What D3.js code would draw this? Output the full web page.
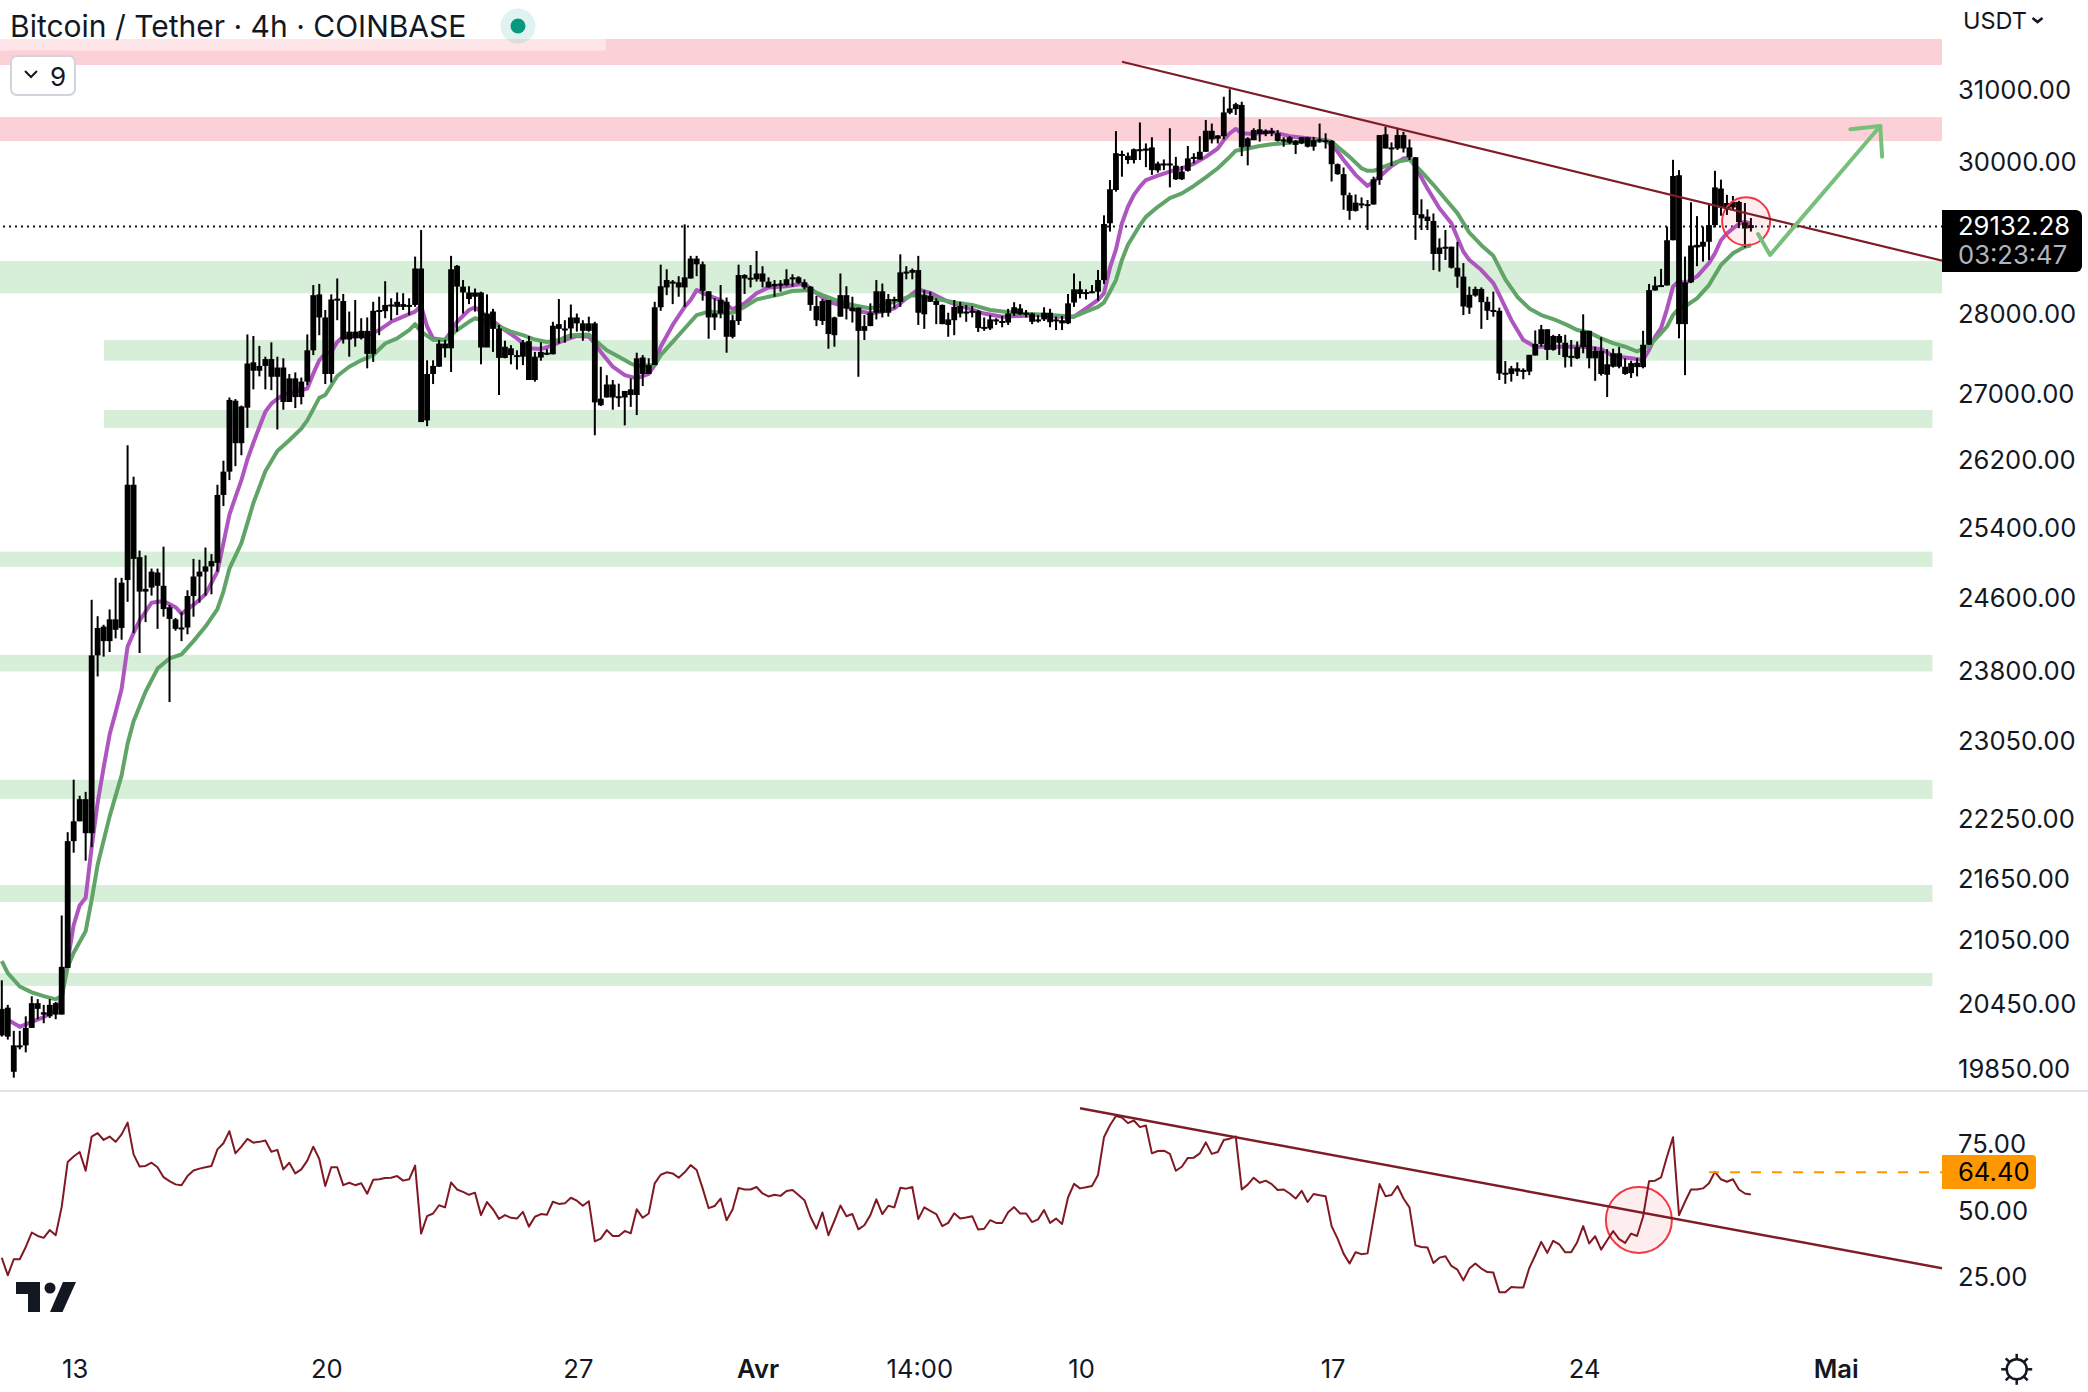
<!DOCTYPE html>
<html><head><meta charset="utf-8">
<script src="https://cdnjs.cloudflare.com/ajax/libs/d3/7.8.5/d3.min.js"></script>
<style>html,body{margin:0;padding:0;background:#fff}svg{display:block}text{font-family:Inter,"Noto Sans",sans-serif;fill:#131722}</style>
</head><body><div id="chart"></div>
<script>
const bodyTop=[20401,20412,20065,20065,20225,20454,20454,20369,20438,20454,
20795,22020,22220,22445,22445,23964,24265,24280,24360,24360,
24770,25900,25900,25060,24700,24895,24885,24735,24495,24360,
24270,24620,24840,24895,24955,25015,25780,26055,26920,26910,
26840,27370,27385,27340,27425,27425,27320,27320,27185,27185,
27145,27535,28235,28245,27950,28180,28190,28160,27770,27770,
27780,27780,28035,28045,28110,28115,28150,28120,28110,28580,
28580,27240,27340,27620,27620,28570,28615,28345,28270,28270,
28270,28000,28025,27810,27580,27560,27475,27635,27650,27455,
27515,27505,27845,27865,27810,27950,27950,27875,27875,27875,
26935,27110,27110,26965,27030,27050,27435,27445,27350,28080,
28350,28430,28410,28400,28465,28710,28710,28635,28285,28000,
28173,28150,27915,28495,28495,28460,28515,28515,28410,28380,
28385,28440,28465,28465,28400,28345,28095,28160,28173,27950,
28235,28235,28075,28075,27840,28010,28285,28285,28185,28185,
28530,28540,28560,28560,28235,28225,28160,28110,27925,28085,
28095,28025,28035,28030,27830,27925,27925,27905,28000,28080,
28065,28010,28000,27925,28010,28010,27925,27915,28130,28310,
28310,28275,28285,28430,29165,29630,30120,30110,30085,30175,
30175,30185,30200,29980,29980,29980,29950,29870,30050,30070,
30140,30430,30430,30365,30685,30740,30800,30790,30325,30440,
30450,30430,30430,30395,30310,30340,30290,30340,30340,30300,
30310,30300,30290,29970,29835,29550,29450,29440,29430,29765,
30370,30380,30200,30370,30370,30200,30065,29295,29263,29205,
28855,28865,28865,28590,28475,28240,28315,28315,28150,28045,
28035,27255,27310,27310,27290,27478,27615,27800,27800,27715,
27715,27630,27465,27575,27780,27780,27530,27530,27360,27498,
27498,27330,27375,27380,27605,28300,28360,28365,28950,29810,
29820,28400,28880,28890,28930,29150,29655,29640,29445,29460,
29460,29185,29150];
const bodyBottom=[20156,20145,19825,20050,20065,20225,20401,20348,20332,20348,
20348,20785,22020,22220,22100,22100,23964,24120,24120,24245,
24265,24800,25040,24670,24670,24715,24735,24475,24365,24255,
24255,24270,24620,24840,24895,24955,24995,25780,26055,26395,
26395,26825,27280,27280,27340,27205,27205,26895,26895,26955,
26955,27145,27535,27950,27240,27240,28180,27670,27670,27685,
27685,27490,27490,28030,28030,28095,28085,28085,28085,28110,
26650,26670,27240,27330,27560,27560,28345,28270,28185,28215,
27570,27570,27805,27440,27440,27475,27455,27455,27165,27165,
27445,27485,27485,27805,27805,27810,27875,27780,27780,26890,
26855,26950,26950,26950,26950,26980,26980,27240,27240,27350,
28080,28335,28385,28335,28335,28450,28635,28290,27950,27950,
28000,27705,27705,27905,28450,28445,28440,28410,28335,28350,
28370,28365,28440,28395,28335,28110,27915,27905,27740,27725,
27960,28065,28030,27780,27780,27840,28010,28010,28010,28160,
28150,28515,28525,28010,27990,28150,28110,27865,27855,27915,
28000,28010,28020,27815,27810,27810,27900,27895,27885,28000,
27990,27995,27895,27905,27925,27890,27905,27875,27875,28140,
28250,28265,28270,28280,28430,29175,29620,30095,30027,30027,
30155,30155,29890,29885,29970,29965,29765,29765,29880,30060,
30035,30140,30310,30320,30355,30680,30730,30200,30210,30300,
30385,30385,30395,30290,30295,30265,30235,30255,30210,30210,
30290,30290,29970,29835,29550,29340,29340,29415,29420,29425,
29755,30185,30180,30185,30185,30065,29285,29240,29205,28770,
28770,28845,28590,28475,28090,28075,28230,28145,28035,28025,
27245,27240,27240,27270,27280,27270,27470,27615,27540,27540,
27630,27450,27450,27435,27575,27435,27435,27240,27230,27330,
27330,27240,27250,27325,27325,27605,28295,28360,28360,28950,
27865,27865,28400,28855,28865,28930,29150,29385,29375,29385,
29190,29105,29110];
const wickHigh=[20668,20438,20198,20198,20332,20518,20492,20438,20492,20465,
21287,22110,22645,22480,22520,24578,24395,24300,24470,24825,
24825,26370,25995,25135,25080,24930,24930,25180,24520,24375,
24440,24685,25040,25030,25170,25095,25900,26185,26950,26930,
26850,27735,27715,27590,27455,27635,27455,27435,27240,27260,
27195,27735,28365,28380,28045,28245,28450,28250,28025,28173,
27940,27950,28150,28215,28415,28195,28270,28260,28195,28735,
29085,27410,27410,27665,27665,28745,28625,28430,28350,28320,
28280,28245,28060,27855,27655,27600,27535,27665,27715,27515,
27635,27550,27895,28185,27915,28115,28000,27915,27960,27895,
27329,27225,27165,27120,27030,27185,27505,27475,27435,28150,
28630,28570,28430,28480,29160,28745,28745,28670,28285,28195,
28365,28205,27980,28630,28505,28625,28810,28610,28465,28430,
28430,28570,28505,28480,28440,28350,28225,28185,28173,27960,
28515,28350,28215,28075,27980,28130,28430,28385,28250,28215,
28765,28610,28580,28745,28300,28280,28195,28115,28010,28173,
28150,28110,28095,28045,27950,27980,27940,27970,28060,28145,
28120,28045,28010,27980,28080,28060,27960,27970,28250,28515,
28415,28310,28365,28560,29280,29755,30425,30155,30130,30185,
30545,30255,30340,30005,30035,30465,30070,29945,30220,30120,
30355,30580,30530,30370,30905,31010,30820,30835,30340,30465,
30590,30450,30470,30440,30340,30355,30300,30345,30345,30345,
30530,30395,30300,29980,29925,29585,29560,29520,29485,29800,
30370,30486,30270,30455,30415,30310,30065,29495,29360,29305,
28975,29085,28865,28930,28650,28345,28345,28335,28215,28280,
28075,27400,27340,27385,27310,27478,27785,27855,27800,27730,
27740,27730,27665,27645,27990,27780,27580,27700,27550,27555,
27575,27435,27405,27435,27780,28380,28475,28575,29130,30030,
29890,28735,29455,29270,29130,29420,29880,29760,29555,29540,
29475,29445,29245];
const wickLow=[20145,20118,19772,20028,20001,20225,20305,20268,20316,20305,
20348,20785,21905,22220,21825,21960,23735,23950,24000,24150,
24135,24555,24210,23990,24330,24625,24255,24390,23460,24235,
24120,24195,24390,24545,24625,24640,24895,25650,25955,26120,
26250,26580,27050,27210,27050,27040,26560,26800,26895,26820,
26865,27100,27475,27725,27115,27135,27915,27620,27455,27580,
27670,27310,27390,27725,27940,27915,27980,28045,27980,28085,
26650,26600,27115,27330,27445,27265,27770,28000,28120,28025,
27360,27580,27515,26980,27435,27360,27295,27350,27165,27145,
27405,27475,27485,27620,27630,27685,27770,27655,27770,26490,
26845,26950,26800,26835,26610,26835,26735,27090,27240,27350,
28035,28235,28120,28215,28085,28450,28480,28165,27680,27790,
27940,27505,27685,27855,28250,28335,28410,28335,28335,28215,
28280,28350,28345,28380,28310,28035,27840,27855,27555,27580,
27960,27925,27885,27205,27665,27840,27925,27950,27960,28065,
28085,28440,28440,27855,27805,28150,27865,27865,27705,27725,
27950,27895,27950,27765,27780,27790,27855,27825,27855,27970,
27980,27950,27865,27885,27905,27825,27790,27790,27865,28085,
28195,28180,28265,28165,28380,29065,29598,29800,29975,29980,
30027,29930,29825,29855,29890,29655,29755,29755,29870,29980,
30035,30140,30255,30255,30310,30660,30650,30080,29955,30300,
30280,30355,30355,30280,30210,30245,30110,30245,30200,30155,
30265,30185,29735,29825,29355,29220,29330,29375,29085,29425,
29690,30185,29945,30165,30130,30027,28955,29085,29085,28560,
28540,28690,28580,28330,27980,27995,28215,27805,27918,27960,
27165,27118,27145,27215,27175,27225,27470,27580,27415,27530,
27478,27320,27330,27425,27498,27310,27155,27220,26955,27320,
27310,27230,27190,27210,27310,27605,28295,28360,28360,28950,
27685,27225,28390,28610,28670,28690,29120,29275,29285,29350,
29110,28855,29065];
const fastEma=[[1,20300],[3,20235],[5,20280],[7,20325],[9,20390],[10,20500],[11,20850],[12,21195],[13,21385],[14,21460],[15,21960],[16,22410],[17,22770],[18,23115],[19,23350],[20,23600],[21,24060],[22,24210],[23,24345],[25,24545],[27,24565],[29,24495],[30,24425],[32,24520],[34,24640],[36,24895],[37,25220],[38,25550],[39,25755],[40,25955],[41,26200],[42,26400],[43,26590],[44,26775],[45,26875],[46,26935],[47,26980],[49,27020],[51,27060],[52,27245],[53,27410],[54,27495],[55,27515],[56,27640],[57,27705],[59,27715],[61,27715],[63,27790],[65,27895],[67,27960],[69,28025],[70,28095],[71,27835],[72,27685],[74,27665],[75,27770],[76,27895],[78,28045],[79,28080],[80,28025],[82,27905],[84,27790],[86,27685],[88,27560],[90,27550],[92,27600],[94,27665],[96,27715],[98,27705],[99,27620],[100,27515],[102,27330],[104,27225],[106,27185],[108,27240],[109,27350],[110,27580],[112,27855],[114,28085],[115,28173],[116,28300],[118,28230],[120,28173],[122,28055],[124,28130],[126,28260],[128,28335],[131,28350],[134,28385],[136,28260],[138,28150],[141,28085],[143,28035],[145,28000],[147,28025],[149,28065],[151,28195],[153,28310],[155,28265],[158,28150],[161,28075],[164,28000],[167,27960],[170,27970],[173,27980],[176,27960],[179,27960],[181,28065],[183,28173],[184,28260],[185,28590],[186,28830],[187,29175],[188,29395],[189,29555],[190,29665],[191,29755],[193,29815],[195,29870],[197,29915],[199,29975],[201,30070],[203,30185],[204,30300],[205,30395],[206,30455],[207,30395],[209,30385],[212,30415],[215,30355],[218,30325],[221,30300],[222,30235],[223,30140],[224,30027],[226,29825],[228,29675],[229,29735],[230,29800],[232,29945],[234,30050],[235,30050],[236,29935],[238,29640],[240,29375],[242,29175],[244,28800],[245,28690],[247,28560],[249,28390],[250,28240],[252,27918],[254,27665],[256,27580],[258,27580],[261,27580],[264,27580],[267,27550],[269,27465],[272,27435],[274,27415],[275,27540],[276,27705],[277,27815],[278,28060],[279,28345],[280,28420],[281,28390],[283,28475],[285,28650],[286,28778],[287,28950],[288,29040],[289,29105],[290,29165],[291,29195],[292,29170]];
const slowEma=[[0,20850],[1,20735],[3,20610],[5,20555],[7,20520],[9,20490],[10,20520],[11,20795],[12,20930],[14,21135],[15,21440],[16,21785],[18,22270],[20,22690],[21,23020],[22,23255],[24,23570],[26,23820],[28,23930],[30,23975],[32,24120],[34,24280],[36,24475],[37,24670],[38,24930],[40,25220],[42,25685],[44,26060],[46,26300],[48,26430],[50,26570],[51,26670],[53,26945],[54,26980],[56,27215],[58,27330],[60,27410],[62,27475],[64,27620],[66,27685],[68,27790],[69,27865],[70,27770],[72,27665],[74,27665],[76,27790],[78,27895],[79,27940],[81,27895],[83,27835],[85,27770],[87,27725],[89,27670],[91,27640],[93,27665],[95,27725],[98,27735],[99,27665],[101,27535],[103,27455],[105,27370],[106,27340],[109,27350],[110,27475],[112,27640],[114,27810],[116,27980],[118,28025],[120,28010],[122,28010],[124,28085],[126,28180],[128,28215],[130,28245],[132,28290],[135,28300],[137,28235],[140,28150],[142,28110],[145,28065],[148,28130],[150,28173],[152,28235],[154,28225],[157,28173],[160,28130],[162,28110],[165,28045],[170,28000],[175,27980],[179,27960],[181,28025],[183,28085],[184,28140],[185,28280],[186,28430],[187,28692],[188,28890],[189,29020],[190,29150],[191,29260],[193,29395],[195,29510],[197,29575],[199,29675],[201,29790],[203,29915],[205,30070],[206,30155],[208,30185],[210,30220],[212,30245],[215,30265],[218,30290],[221,30300],[222,30280],[223,30210],[225,30070],[227,29915],[228,29880],[229,29880],[231,29945],[233,30005],[235,30035],[237,29870],[239,29690],[241,29500],[243,29310],[245,29050],[247,28885],[249,28745],[251,28440],[253,28215],[255,28065],[257,27980],[259,27930],[261,27865],[263,27790],[265,27760],[267,27685],[269,27625],[271,27580],[273,27520],[275,27590],[277,27750],[278,27835],[279,27980],[280,28065],[281,28090],[283,28195],[285,28365],[287,28625],[289,28778],[291,28865],[292,28885]];
const rsiValues=[32.4,25.9,31.9,31.9,36.5,41.9,40.6,39.9,42.8,40.9,51.5,68.3,70.3,72,65,77.8,79.1,76.5,77.8,75.8,78.6,83,71.1,66.6,66.8,68,66.3,62.6,61.1,59.9,59.6,63,65.1,65.8,66.3,66.8,73,75.3,79.8,71.5,74,76.9,75.5,75.8,76.3,72.1,72.8,65.5,68,64,65.5,68.8,74,69.4,59.3,66.3,66.3,59.6,60.5,59.6,60.3,56.4,61.6,61.8,62.3,62.4,63,61.3,61.8,66.9,41.5,48,49,52.1,51.3,60.6,58,57.1,56,56.8,48.4,53.3,50.6,47,48.4,47.4,47.1,49.6,44.1,47.8,48.8,48.5,53.4,52.6,52.8,54.9,53.8,51.9,53.6,38.6,39.6,42.8,40.6,40.6,42.5,41.6,50.6,47.4,49,60.3,63.5,64.4,64,62.4,64.4,67.1,65.3,
58.4,51,51.8,54.6,46.5,50.5,58.6,58,58,58.9,56.5,55.4,56,55.6,57.4,57.8,55.9,54,47.8,43.3,49.4,40.9,46.3,52,48,48.8,43.1,44.6,48.4,54.3,48.8,51.9,51.3,58.6,58.3,58.9,46.9,51.3,50,48.8,44.3,45.5,49.1,47.1,47.5,48,43,43.3,46.5,45.5,45.5,49.5,51.4,49,49,45.8,46.8,50.3,45.5,47.1,45.1,55,60.1,58.4,58.8,59.3,63.4,77.5,82,85.5,84.9,82.8,83.8,81.3,81.9,71.5,72.4,72.5,71.3,65,66.5,69.8,69.9,71.5,75.6,71.3,72,76.5,77,77.8,58,59.8,62.4,60.5,61.3,60,57.8,58,56.5,54.6,57.5,53.3,56.3,55.8,55.5,44.3,39.6,34,30.3,34.5,33.8,34.1,47.1,60,55.5,55.9,59.3,
54.6,51.3,37.1,36.5,36.3,30.5,32.5,33,29.4,28,24,28.4,30.3,28.4,27.1,26.9,19.6,19.6,21.5,21.3,21.3,28.6,33.4,38.4,34.3,38.8,37.5,34.5,34.5,38.3,44.3,37.8,40.5,35.5,39,42.4,39.4,38,41.5,40.6,47.8,61.1,61.3,62.5,70.3,77.5,48.4,53.4,58,58,58.4,60.3,64.6,61.8,60.9,61.8,58,56.5,56.1];
const priceTicks=[31000,30000,28000,27000,26200,25400,24600,23800,23050,22250,21650,21050,20450,19850];
const rsiTicks=[75,50,25];
const timeBars=[12,54,96,126,153,180,222,264,306];
const timeLabels=["13","20","27","Avr","14:00","10","17","24","Mai"];
const boldLabels=["Avr","Mai"];
const lastPrice=29132.28, countdown="03:23:47", lastRsi=64.40;
const resistanceZones=[[31728,31355,-1,324.5],[30620,30288,-1,324.5]];
const supportZones=[[28678,28259,-1,324.5],[27664,27405,17.06,322.3],[26796,26577,17.06,322.3],[25123,24948,-1,322.3],[23969,23789,-1,322.3],[22644,22447,-1,322.3],[21585,21418,-1,322.3],[20737,20615,-1,322.3]];
const priceTrend=[[187,31402],[324,28681]];
const rsiTrend=[[180,88.35],[324,28.5]];
const arrowShaft=[[293.2,29032],[295.2,28757],[313.6,30496]];
const arrowHead=[[308.6,30450],[313.6,30496],[313.9,30073]];
const priceCircle=[291.2,29200];
const rsiCircle=[273.3,46.6];

const W=2088,H=1392,AX=1942,SEP=1090;
const x=d3.scaleLinear().domain([0,292]).range([1.8,1750.9]);
const y=d3.scaleLog().domain([19850,31000]).range([1069,90]);
const r=d3.scaleLinear().domain([25,75]).range([1277.7,1144]);
const svg=d3.select("#chart").append("svg").attr("width",W).attr("height",H).attr("viewBox",[0,0,W,H]);
svg.append("rect").attr("width",W).attr("height",H).attr("fill","#fff");
const defs=svg.append("defs");
defs.append("clipPath").attr("id","cm").append("rect").attr("width",AX).attr("height",SEP);
defs.append("clipPath").attr("id","cr").append("rect").attr("y",SEP+2).attr("width",AX).attr("height",1340-SEP);
const main=svg.append("g").attr("clip-path","url(#cm)");
const zone=(rows,col)=>main.append("g").selectAll("rect").data(rows).join("rect")
 .attr("x",d=>x(d[2])).attr("width",d=>x(d[3])-x(d[2])).attr("y",d=>y(d[0])).attr("height",d=>y(d[1])-y(d[0])).attr("fill",col);
zone(resistanceZones,"#fbd0d6");zone(supportZones,"#d7eed9");
svg.append("rect").attr("x",0).attr("y",39).attr("width",606).attr("height",11.5).attr("fill","#fff").attr("opacity",.45);
main.append("line").attr("x1",3).attr("x2",AX).attr("y1",y(lastPrice)).attr("y2",y(lastPrice))
 .attr("stroke","#131722").attr("stroke-width",2).attr("stroke-dasharray","2 4");
const lp=d3.line().x(d=>x(d[0])).y(d=>y(d[1]));
main.append("path").attr("d",lp(fastEma)).attr("fill","none").attr("stroke","#ae55bf").attr("stroke-width",4).attr("stroke-linejoin","round");
main.append("path").attr("d",lp(slowEma)).attr("fill","none").attr("stroke","#60a468").attr("stroke-width",4).attr("stroke-linejoin","round");
const bars=d3.range(bodyTop.length);
main.append("g").selectAll("line").data(bars).join("line")
 .attr("x1",i=>x(i)).attr("x2",i=>x(i)).attr("y1",i=>y(wickHigh[i])).attr("y2",i=>y(wickLow[i]))
 .attr("stroke","#000").attr("stroke-width",2);
main.append("g").selectAll("rect").data(bars).join("rect")
 .attr("x",i=>x(i)-2.9).attr("width",5.8).attr("y",i=>y(bodyTop[i]))
 .attr("height",i=>Math.max(2,y(bodyBottom[i])-y(bodyTop[i]))).attr("fill","#000");
main.append("circle").attr("cx",x(priceCircle[0])).attr("cy",y(priceCircle[1])).attr("r",24)
 .attr("fill","#f23645").attr("fill-opacity",.09).attr("stroke","#f23645").attr("stroke-width",2);
main.append("path").attr("d",lp(priceTrend)).attr("stroke","#7f1d27").attr("stroke-width",2.2).attr("fill","none");
[arrowShaft,arrowHead].forEach(a=>main.append("path").attr("d",lp(a)).attr("fill","none").attr("stroke","#77c07c").attr("stroke-width",4).attr("stroke-linejoin","round").attr("stroke-linecap","round"));
svg.append("rect").attr("y",SEP).attr("width",W).attr("height",2).attr("fill","#e0e3eb");
const rp=svg.append("g").attr("clip-path","url(#cr)");
const lr=d3.line().x((d,i)=>x(i)).y(d=>r(d));
rp.append("circle").attr("cx",x(rsiCircle[0])).attr("cy",r(rsiCircle[1])).attr("r",33)
 .attr("fill","#f23645").attr("fill-opacity",.09).attr("stroke","#f23645").attr("stroke-width",2);
rp.append("path").attr("d",lr(rsiValues)).attr("fill","none").attr("stroke","#801922").attr("stroke-width",2).attr("stroke-linejoin","round");
rp.append("line").attr("x1",x(rsiValues.length-8)).attr("x2",AX).attr("y1",r(lastRsi)).attr("y2",r(lastRsi))
 .attr("stroke","#ff9800").attr("stroke-width",2).attr("stroke-dasharray","10 11");
rp.append("path").attr("d",d3.line().x(d=>x(d[0])).y(d=>r(d[1]))(rsiTrend)).attr("fill","none").attr("stroke","#7f1d27").attr("stroke-width",2.4);

const FS=25.6;
const styleAxis=g=>{g.select(".domain").remove();g.selectAll("line").remove();
 g.selectAll("text").attr("font-size",FS).attr("font-family","Inter").attr("fill","#131722");};
svg.append("g").attr("transform","translate(1958,0.7)")
 .call(d3.axisRight(y).tickValues(priceTicks).tickSize(0).tickPadding(0).tickFormat(d3.format(".2f"))).call(styleAxis);
svg.append("g").attr("transform","translate(1958,0)")
 .call(d3.axisRight(r).tickValues(rsiTicks).tickSize(0).tickPadding(0).tickFormat(d3.format(".2f"))).call(styleAxis);
const tAxis=svg.append("g").attr("transform","translate(1,1360)")
 .call(d3.axisBottom(x).tickValues(timeBars).tickSize(0).tickPadding(0).tickFormat((d,i)=>timeLabels[i])).call(styleAxis);
tAxis.selectAll("text").attr("font-weight",function(){return boldLabels.includes(this.textContent)?600:400;});

const lb=svg.append("g");
lb.append("path").attr("d","M1942 210H2076a6 6 0 0 1 6 6V266a6 6 0 0 1-6 6H1942Z").attr("fill","#000");
lb.append("text").attr("x",1958).attr("y",y(lastPrice)).attr("dy",".35em").attr("font-size",FS).style("fill","#fff").text(d3.format(".2f")(lastPrice));
lb.append("text").attr("x",1958).attr("y",255).attr("dy",".35em").attr("font-size",FS).style("fill","#b2b5be").text(countdown);
lb.append("path").attr("d","M1942 1155H2032a4 4 0 0 1 4 4V1185a4 4 0 0 1-4 4H1942Z").attr("fill","#ff9800");
lb.append("text").attr("x",1958).attr("y",r(lastRsi)).attr("dy",".35em").attr("font-size",FS).style("fill","#000").text(d3.format(".2f")(lastRsi));

svg.append("text").attr("x",10).attr("y",37).attr("font-size",30).text("Bitcoin / Tether · 4h · COINBASE");
svg.append("circle").attr("cx",518).attr("cy",26).attr("r",17.5).attr("fill","#089981").attr("fill-opacity",.12);
svg.append("circle").attr("cx",518).attr("cy",26).attr("r",7.5).attr("fill","#089981");
svg.append("rect").attr("x",11).attr("y",56).attr("width",64).attr("height",39).attr("rx",6).attr("fill","#fff").attr("stroke","#d1d4dc").attr("stroke-width",2);
svg.append("path").attr("d","M25 71l6 6 6-6").attr("fill","none").attr("stroke","#131722").attr("stroke-width",2);
svg.append("text").attr("x",50).attr("y",86).attr("font-size",26).text("9");
svg.append("text").attr("x",1963).attr("y",29.3).attr("font-size",23.5).text("USDT");
svg.append("path").attr("d","M2032.5 18l5 4 5-4").attr("fill","none").attr("stroke","#131722").attr("stroke-width",2.6);
const logo=svg.append("g").attr("fill","#131722");
logo.append("path").attr("d","M16 1282H40V1312H28V1294H16Z");
logo.append("circle").attr("cx",50).attr("cy",1288).attr("r",5.5);
logo.append("path").attr("d","M63 1282H76L62.5 1312H50Z");
const sun=svg.append("g").attr("transform","translate(2016.7,1369.3)").attr("fill","none").attr("stroke","#131722").attr("stroke-width",2.5);
sun.append("circle").attr("r",10);
d3.range(8).forEach(k=>{const a=k*Math.PI/4;sun.append("line").attr("x1",10*Math.cos(a)).attr("y1",10*Math.sin(a)).attr("x2",15.5*Math.cos(a)).attr("y2",15.5*Math.sin(a));});
</script></body></html>
